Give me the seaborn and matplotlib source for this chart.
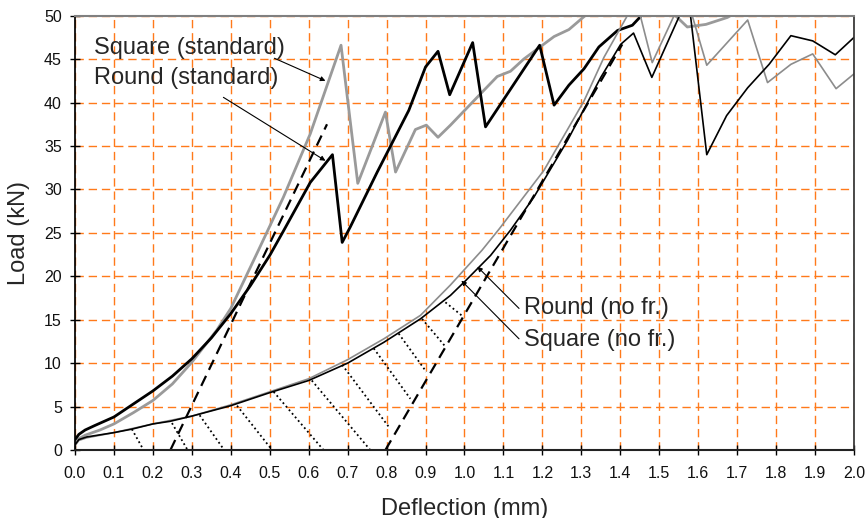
import matplotlib
matplotlib.use('Agg')
import matplotlib.pyplot as plt
import seaborn as sns
import numpy as np

# Load-deflection curves.
round_std_x = [0.0, 0.01, 0.026, 0.05, 0.075, 0.1, 0.15, 0.2, 0.25, 0.3, 0.35, 0.4, 0.45, 0.5,
               0.535, 0.604, 0.661, 0.686, 0.707, 0.776, 0.857, 0.9, 0.932, 0.962, 1.021,
               1.054, 1.193, 1.23, 1.268, 1.307, 1.345, 1.393, 1.431, 1.452, 1.48]
round_std_y = [1.2, 1.8, 2.3, 2.8, 3.3, 3.8, 5.3, 6.8, 8.5, 10.5, 12.9, 15.7, 18.9, 22.4,
               25.2, 30.8, 34.0, 23.9, 25.7, 32.0, 39.1, 44.1, 45.9, 40.9, 46.9,
               37.2, 46.6, 39.7, 42.0, 43.9, 46.4, 48.3, 48.9, 49.9, 52.0]

square_std_x = [0.0, 0.01, 0.026, 0.064, 0.1, 0.15, 0.2, 0.25, 0.3, 0.364, 0.4, 0.471, 0.535,
                0.604, 0.683, 0.726, 0.797, 0.823, 0.874, 0.902, 0.932, 0.964, 1.041, 1.084,
                1.118, 1.152, 1.23, 1.268, 1.307, 1.35, 1.45, 1.53, 1.551, 1.572, 1.62, 1.675,
                1.72]
square_std_y = [0.9, 1.3, 1.7, 2.3, 3.0, 4.3, 5.7, 7.6, 10.1, 13.8, 16.3, 23.0, 29.1,
                36.4, 46.6, 30.7, 38.9, 32.0, 36.9, 37.4, 36.0, 37.4, 41.0, 43.0,
                43.6, 45.0, 47.6, 48.4, 49.9, 51.5, 52.0, 50.5, 49.6, 48.7, 49.0, 49.8,
                51.0]

round_nofr_x = [0.0, 0.01, 0.03, 0.1, 0.146, 0.2, 0.244, 0.3, 0.4, 0.5, 0.6, 0.7, 0.793, 0.887,
                0.964, 1.003, 1.067, 1.118, 1.178, 1.264, 1.35, 1.401, 1.434, 1.481, 1.551,
                1.565, 1.579, 1.622, 1.673, 1.727, 1.782, 1.838, 1.894, 1.952, 2.0]
round_nofr_y = [0.6, 1.2, 1.5, 2.0, 2.4, 3.0, 3.3, 3.9, 5.1, 6.6, 8.0, 10.0, 12.4, 15.1,
                17.8, 19.5, 22.4, 25.3, 29.1, 35.6, 42.9, 46.7, 48.0, 42.9, 49.9,
                51.0, 50.5, 34.0, 38.5, 41.7, 44.4, 47.7, 47.1, 45.5, 47.5]

square_nofr_x = [0.0, 0.01, 0.03, 0.1, 0.2, 0.3, 0.4, 0.5, 0.6, 0.7, 0.793, 0.887, 0.964,
                 1.045, 1.09, 1.204, 1.307, 1.358, 1.418, 1.44, 1.482, 1.538, 1.565, 1.622,
                 1.727, 1.778, 1.838, 1.894, 1.954, 2.0]
square_nofr_y = [0.5, 1.1, 1.4, 2.0, 3.0, 3.9, 5.2, 6.7, 8.2, 10.4, 12.8, 15.5, 19.0,
                 23.0, 25.5, 32.2, 40.2, 45.2, 50.0, 52.0, 44.6, 50.0, 53.0, 44.3,
                 49.5, 42.3, 44.4, 45.6, 41.6, 43.3]

# Tangent (dashed) lines
tan_std_x = [0.245, 0.647]
tan_std_y = [0.0, 37.5]
tan_nofr_x = [0.797, 1.405]
tan_nofr_y = [0.0, 46.7]

# Dotted hatching between the no-friction curve and its tangent
hatch_x0 = [0.146, 0.249, 0.320, 0.416, 0.510, 0.608, 0.686, 0.767, 0.831, 0.891, 0.951]
hatch_y0 = [2.4, 3.1, 4.0, 5.1, 6.7, 8.0, 9.8, 11.7, 13.4, 15.1, 17.0]
hatch_x1 = [0.176, 0.289, 0.383, 0.506, 0.638, 0.758, 0.805, 0.861, 0.902, 0.951, 0.998]
hatch_y1 = [0.0, 0.0, 0.0, 0.0, 0.0, 0.0, 2.7, 5.9, 9.0, 11.9, 15.3]

x_ticks = np.round(np.arange(0, 2.01, 0.1), 1)
y_ticks = np.arange(0, 51, 5)

sns.set_theme(style='white')
plt.rcParams['font.family'] = ['Liberation Sans', 'DejaVu Sans']

fig, ax = plt.subplots(figsize=(8.67, 5.18), dpi=100)
fig.subplots_adjust(left=0.0865, right=0.985, bottom=0.1313, top=0.9697)

# Grey curves first, black on top
sns.lineplot(x=square_std_x, y=square_std_y, sort=False, color='#9a9a9a', lw=2.0, ax=ax)
sns.lineplot(x=round_std_x, y=round_std_y, sort=False, color='black', lw=2.0, ax=ax)
sns.lineplot(x=square_nofr_x, y=square_nofr_y, sort=False, color='#8c8c8c', lw=1.2, ax=ax)
sns.lineplot(x=round_nofr_x, y=round_nofr_y, sort=False, color='black', lw=1.2, ax=ax)

ax.plot(tan_std_x, tan_std_y, color='black', lw=1.6, dashes=(5, 3))
ax.plot(tan_nofr_x, tan_nofr_y, color='black', lw=1.6, dashes=(5, 3))
for i in range(len(hatch_x0)):
    ax.plot([hatch_x0[i], hatch_x1[i]], [hatch_y0[i], hatch_y1[i]],
            color='black', lw=1.3, linestyle=(0, (1, 1.6)))

ax.set_xlim(0, 2.0)
ax.set_ylim(0, 50)
ax.set_xticks(x_ticks)
ax.set_xticklabels([f'{v:.1f}' for v in x_ticks])
ax.set_yticks(y_ticks)
ax.tick_params(axis='both', direction='inout', length=7, width=1, color='black',
               labelsize=11.5, labelcolor='#111111', left=True, bottom=True)
ax.tick_params(axis='x', pad=8)
ax.tick_params(axis='y', pad=6)
ax.set_axisbelow(True)
ax.grid(True, color='#ff7a1a', linestyle=(0, (6, 3.5)), lw=1.0)

ax.spines['left'].set_color('black')
ax.spines['bottom'].set_color('#222222')
ax.spines['bottom'].set_linewidth(1.5)
ax.spines['top'].set_color('#808080')
ax.spines['top'].set_linewidth(1.5)
ax.spines['right'].set_color('#333333')

ax.set_xlabel('Deflection (mm)', fontsize=17, labelpad=12)
ax.set_ylabel('Load (kN)', fontsize=17, labelpad=10)

# Labels with leader arrows
arrow = dict(arrowstyle='-|>', color='black', lw=0.8, mutation_scale=7, shrinkA=0, shrinkB=0)
ax.text(0.05, 46.3, 'Square (standard)', fontsize=17, va='center', ha='left')
ax.text(0.05, 42.8, 'Round (standard)', fontsize=17, va='center', ha='left')
ax.annotate('', xy=(0.643, 42.5), xytext=(0.512, 45.1), arrowprops=arrow)
ax.annotate('', xy=(0.643, 33.3), xytext=(0.381, 40.6), arrowprops=arrow)
ax.text(1.152, 16.3, 'Round (no fr.)', fontsize=17, va='center', ha='left')
ax.text(1.152, 12.7, 'Square (no fr.)', fontsize=17, va='center', ha='left')
ax.annotate('', xy=(1.033, 21.1), xytext=(1.14, 16.3), arrowprops=arrow)
ax.annotate('', xy=(0.992, 19.5), xytext=(1.14, 12.8), arrowprops=arrow)

plt.savefig('out.png', dpi=100)
